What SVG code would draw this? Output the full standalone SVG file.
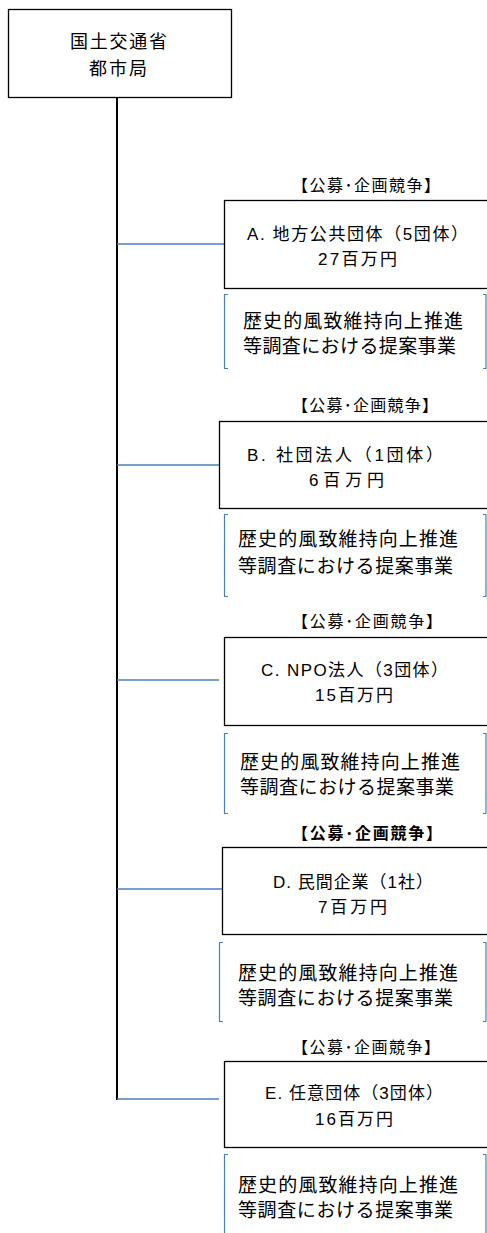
<svg xmlns="http://www.w3.org/2000/svg" width="487" height="1233" viewBox="0 0 487 1233">
<style>
text{font-family:"Liberation Sans","Noto Sans CJK JP",sans-serif;fill:#000;}
.top{font-size:18px;}
.t{font-size:17px;}
.ttl{font-size:16px;}
.b{font-size:19px;}
.box{fill:#fff;stroke:#000;stroke-width:1.3;}
.br{fill:none;stroke:#4a7ebb;stroke-width:1.2;}
.con{stroke:#4a7ebb;stroke-width:1.6;fill:none;}
.trunk{stroke:#000;stroke-width:2;fill:none;}
</style>
<g id="connectors">
<line class="trunk" x1="117" y1="98" x2="117" y2="1100"/>
<line class="con" x1="117" y1="244" x2="224" y2="244"/>
<line class="con" x1="117" y1="465" x2="224" y2="465"/>
<line class="con" x1="117" y1="680" x2="219" y2="680"/>
<line class="con" x1="117" y1="889" x2="222" y2="889"/>
<line class="con" x1="117" y1="1099" x2="219" y2="1099"/>
</g>
<g id="root">
<rect class="box" x="8.5" y="9.5" width="223" height="88"/>
<text class="top" x="70" y="48" textLength="97" lengthAdjust="spacing">国土交通省</text>
<text class="top" x="89" y="75" textLength="58" lengthAdjust="spacing">都市局</text>
</g>
<g id="nodeA">
<text class="ttl" x="292" y="191" textLength="148" lengthAdjust="spacing">【公募･企画競争】</text>
<rect class="box" x="224.5" y="200.5" width="270" height="88"/>
<text class="t" x="247" y="240" textLength="221" lengthAdjust="spacing">A. 地方公共団体（5団体）</text>
<text class="t" x="318" y="265" textLength="79" lengthAdjust="spacing">27百万円</text>
</g>
<g id="noteA">
<path class="br" d="M228,294.5 H224.5 V368.5 H228 M483,294.5 H486 V368.5 H483"/>
<text class="b" x="243" y="328" textLength="220" lengthAdjust="spacing">歴史的風致維持向上推進</text>
<text class="b" x="243" y="353" textLength="213" lengthAdjust="spacing">等調査における提案事業</text>
</g>
<g id="nodeB">
<text class="ttl" x="292" y="411" textLength="146" lengthAdjust="spacing">【公募･企画競争】</text>
<rect class="box" x="219.5" y="421.5" width="275" height="87"/>
<text class="t" x="247" y="461" textLength="196" lengthAdjust="spacing">B. 社団法人（1団体）</text>
<text class="t" x="309" y="486" textLength="75" lengthAdjust="spacing">6百万円</text>
</g>
<g id="noteB">
<path class="br" d="M228,514.5 H224.5 V596.5 H228 M483,514.5 H486 V596.5 H483"/>
<text class="b" x="238" y="546" textLength="220" lengthAdjust="spacing">歴史的風致維持向上推進</text>
<text class="b" x="238" y="573" textLength="215" lengthAdjust="spacing">等調査における提案事業</text>
</g>
<g id="nodeC">
<text class="ttl" x="292" y="627" textLength="150" lengthAdjust="spacing">【公募･企画競争】</text>
<rect class="box" x="224.5" y="637.5" width="270" height="88"/>
<text class="t" x="261" y="676" textLength="187" lengthAdjust="spacing">C. NPO法人（3団体）</text>
<text class="t" x="315" y="701" textLength="78" lengthAdjust="spacing">15百万円</text>
</g>
<g id="noteC">
<path class="br" d="M228,733.5 H224.5 V813.5 H228 M483,733.5 H486 V813.5 H483"/>
<text class="b" x="240" y="769" textLength="220" lengthAdjust="spacing">歴史的風致維持向上推進</text>
<text class="b" x="240" y="794" textLength="214" lengthAdjust="spacing">等調査における提案事業</text>
</g>
<g id="nodeD">
<text class="ttl" x="292" y="839" textLength="150" lengthAdjust="spacing" font-weight="bold">【公募･企画競争】</text>
<rect class="box" x="222.5" y="847.5" width="272" height="87"/>
<text class="t" x="273" y="888" textLength="160" lengthAdjust="spacing">D. 民間企業（1社）</text>
<text class="t" x="318" y="913" textLength="69" lengthAdjust="spacing">7百万円</text>
</g>
<g id="noteD">
<path class="br" d="M223,942.5 H219.5 V1021.5 H223 M483,942.5 H486 V1021.5 H483"/>
<text class="b" x="238" y="980" textLength="220" lengthAdjust="spacing">歴史的風致維持向上推進</text>
<text class="b" x="238" y="1005" textLength="215" lengthAdjust="spacing">等調査における提案事業</text>
</g>
<g id="nodeE">
<text class="ttl" x="292" y="1053" textLength="148" lengthAdjust="spacing">【公募･企画競争】</text>
<rect class="box" x="224.5" y="1061.5" width="270" height="86"/>
<text class="t" x="265" y="1099" textLength="178" lengthAdjust="spacing">E. 任意団体（3団体）</text>
<text class="t" x="315" y="1125" textLength="78" lengthAdjust="spacing">16百万円</text>
</g>
<g id="noteE">
<path class="br" d="M228,1154.5 H224.5 V1240 M483,1154.5 H486 V1240"/>
<text class="b" x="238" y="1192" textLength="220" lengthAdjust="spacing">歴史的風致維持向上推進</text>
<text class="b" x="238" y="1217" textLength="215" lengthAdjust="spacing">等調査における提案事業</text>
</g>
</svg>
